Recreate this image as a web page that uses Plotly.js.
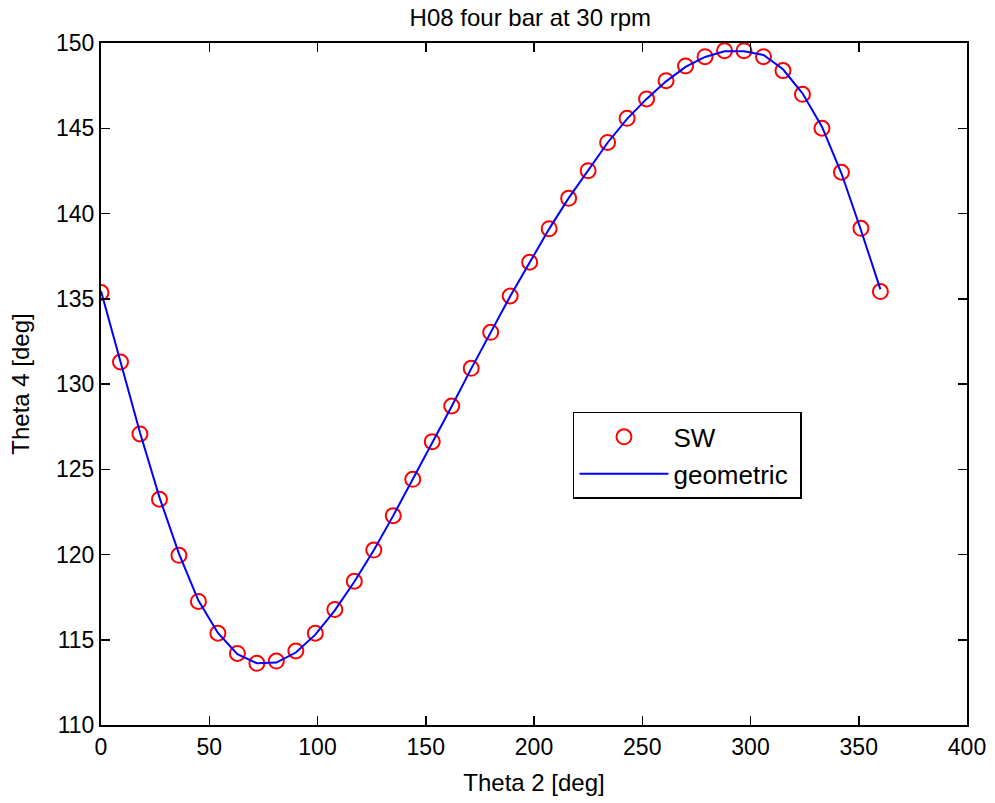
<!DOCTYPE html>
<html>
<head>
<meta charset="utf-8">
<script src="https://cdn.plot.ly/plotly-3.0.1.min.js"></script>
<style>
  html, body { margin: 0; padding: 0; background: #fff; }
  #chart { width: 995px; height: 803px; }
</style>
</head>
<body>
<div id="chart"></div>
<script>
// Crank angle theta 2 [deg]
var theta2 = [0, 9, 18, 27, 36, 45, 54, 63, 72, 81, 90, 99, 108, 117, 126, 135, 144, 153, 162, 171,
              180, 189, 198, 207, 216, 225, 234, 243, 252, 261, 270, 279, 288, 297, 306, 315, 324, 333, 342, 351, 360];

// SolidWorks result, theta 4 [deg]
var theta4SW = [135.36, 131.29, 127.07, 123.24, 119.95, 117.25, 115.38, 114.20, 113.62, 113.75,
                114.34, 115.38, 116.78, 118.43, 120.26, 122.28, 124.41, 126.62, 128.71, 130.92,
                133.03, 135.16, 137.14, 139.11, 140.89, 142.51, 144.17, 145.58, 146.72, 147.79,
                148.65, 149.20, 149.55, 149.55, 149.20, 148.38, 146.99, 145.00, 142.42, 139.13, 135.42];

// Geometric solution, theta 4 [deg]
var theta4Geo = [135.45, 131.30, 127.15, 123.35, 120.05, 117.30, 115.40, 114.15, 113.62, 113.66,
                 114.25, 115.30, 116.72, 118.40, 120.25, 122.28, 124.40, 126.60, 128.70, 130.90,
                 133.02, 135.14, 137.12, 139.10, 140.90, 142.52, 144.15, 145.55, 146.72, 147.75,
                 148.60, 149.18, 149.52, 149.52, 149.30, 148.46, 147.05, 145.09, 142.36, 139.03, 135.55];

var seriesNames = ['SW', 'geometric'];
var chartTitle = 'H08 four bar at 30 rpm';
var xTitle = 'Theta 2 [deg]';
var yTitle = 'Theta 4 [deg]';

var FONT = 'Liberation Sans, Arial, Helvetica, sans-serif';

var traces = [
  {
    x: theta2, y: theta4SW, name: seriesNames[0],
    type: 'scatter', mode: 'markers',
    marker: { symbol: 'circle-open', size: 15, color: '#ff0000', line: { width: 2, color: '#ff0000' } }
  },
  {
    x: theta2, y: theta4Geo, name: seriesNames[1] + '\u00a0',
    type: 'scatter', mode: 'lines',
    line: { color: '#0000ff', width: 2 }
  }
];

var axisCommon = {
  showgrid: false, zeroline: false,
  showline: true, linecolor: '#000', linewidth: 2,
  mirror: 'ticks', ticks: 'inside', ticklen: 9, tickwidth: 1.5, tickcolor: '#000',
  tickfont: { family: FONT, size: 23, color: '#000' }
};

var layout = {
  width: 995, height: 803,
  paper_bgcolor: '#fff', plot_bgcolor: '#fff',
  margin: { l: 101, r: 28, t: 43, b: 78 },
  font: { family: FONT, color: '#000' },
  title: { text: chartTitle, font: { family: FONT, size: 24, color: '#000' }, x: 0.533, xanchor: 'center', y: 0.978, yanchor: 'middle' },
  xaxis: Object.assign({}, axisCommon, {
    range: [0, 400], dtick: 50, tick0: 0,
    title: { text: xTitle, font: { family: FONT, size: 24, color: '#000' }, standoff: 16 }
  }),
  yaxis: Object.assign({}, axisCommon, {
    range: [110, 150], dtick: 5, tick0: 110,
    title: { text: yTitle, font: { family: FONT, size: 24, color: '#000' }, standoff: 20 }
  }),
  showlegend: true,
  legend: {
    x: 0.545, y: 0.459, xanchor: 'left', yanchor: 'top',
    bgcolor: '#fff', bordercolor: '#000', borderwidth: 1.5,
    font: { family: FONT, size: 26, color: '#000' },
    itemwidth: 89, tracegroupgap: 0
  }
};

Plotly.newPlot('chart', traces, layout, { staticPlot: true, displayModeBar: false });
</script>
</body>
</html>
